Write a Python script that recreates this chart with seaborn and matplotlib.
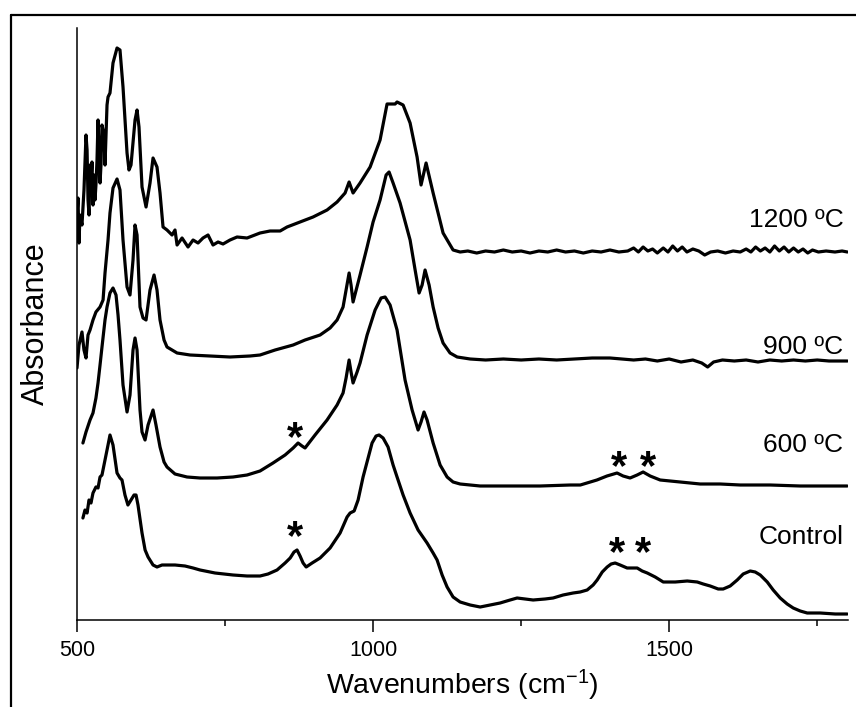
import numpy as np
import pandas as pd
import matplotlib
matplotlib.use("Agg")
import matplotlib.pyplot as plt
from matplotlib.lines import Line2D
from matplotlib.ticker import FixedLocator
import seaborn as sns

# ---------------- data (wavenumber, stacked absorbance in arbitrary units) ----------------
wn_1200 = [500, 501.7, 503.4, 505, 508.4, 511.8, 515.2, 517, 518.6, 520.3, 522, 523.6, 525.3, 527,
           528.7, 530.4, 532, 533.8, 535.5, 537, 538.9, 540.5, 542.2, 544, 545.6, 547.3, 550.7, 552.4,
           555.7, 560.8, 567.6, 572.6, 577.7, 584.5, 587.8, 591.2, 598, 601.4, 604.7, 609.8, 616.6,
           623.3, 628.4, 635.1, 640.2, 645.3, 652, 660.5, 665.5, 669, 677.4, 687.5, 696, 704.4, 712.8,
           721.3, 729.7, 738.2, 746.6, 758.4, 770.3, 787.2, 809.1, 826, 843, 854.7, 876.7, 898.6,
           922.3, 939.2, 952.7, 959.5, 966.2, 978, 995, 1011.8, 1023.6, 1037.2, 1040.5, 1050.7,
           1062.5, 1074.3, 1081, 1089.5, 1101.4, 1118.2, 1135.1, 1147,
           1160, 1175, 1190, 1205, 1220, 1235, 1250, 1265, 1280, 1295, 1310, 1325, 1340, 1355, 1370,
           1385, 1400, 1415, 1430, 1440, 1448, 1456, 1464, 1472, 1480, 1490, 1498, 1506, 1514, 1522,
           1530, 1540, 1550, 1560, 1570, 1582, 1595, 1608, 1620, 1630, 1638, 1646, 1654, 1662, 1670,
           1678, 1686, 1694, 1702, 1710, 1718, 1726, 1734, 1742, 1752, 1765, 1780, 1792, 1801]
ab_1200 = [405, 422, 377, 405, 395, 430, 485, 470, 420, 405, 455, 440, 458, 415,
           445, 420, 435, 460, 500, 470, 437, 455, 495, 490, 485, 455, 515, 523,
           527, 557, 572, 570, 533, 467, 450, 455, 500, 510, 493, 433, 413,
           437, 462, 453, 427, 393, 390, 385, 390, 375, 382, 373, 380, 377, 382,
           385, 375, 378, 376, 380, 383, 382, 387, 389, 389, 393, 398, 403,
           410, 418, 427, 438, 427, 437, 453, 480, 516, 516, 518, 515,
           497, 463, 435, 457, 427, 387, 370, 368,
           369, 367, 369, 368, 370, 368, 369, 367, 369, 368, 370, 368, 369, 367, 369,
           368, 370, 368, 369, 372, 368, 373, 369, 371, 367, 372, 368, 374, 369, 373,
           368, 371, 369, 365, 368, 369, 367, 369, 368, 371, 368, 373, 369, 372, 368,
           374, 369, 373, 368, 372, 368, 371, 367, 370, 368, 369, 368, 369, 368]

wn_900 = [500, 503.4, 508.4, 511.8, 515.2, 518.6, 522, 527, 532, 538.9, 544, 547.3, 552.4, 555.7,
          560.8, 567.6, 572.6, 577.7, 584.5, 589.5, 594.6, 598, 601.4, 606.4, 611.5, 616.6, 623.3,
          630.1, 635.1, 640.2, 647, 652, 660.5, 669, 690.9, 724.7, 758.4, 792.2, 809.1, 834.5, 865,
          885.1, 910.5, 927.4, 939.2, 949.3, 954.4, 959.5, 962.8, 966.2, 978, 989.9, 1000, 1011.8,
          1022, 1027, 1033.8, 1045.6, 1062.5, 1071, 1077.7, 1082.8, 1087.8, 1094.6, 1101.4, 1109.8,
          1118.2, 1130, 1142, 1164,
          1190, 1220, 1250, 1280, 1310, 1340, 1370, 1400, 1420, 1440, 1460, 1480, 1500, 1520, 1540,
          1555, 1565, 1575, 1590, 1610, 1630, 1650, 1670, 1690, 1710, 1730, 1750, 1770, 1801]
ab_900 = [252, 275, 288, 270, 262, 285, 290, 300, 308, 313, 320, 347, 380, 407,
          432, 441, 430, 380, 333, 325, 360, 395, 385, 313, 302, 300, 330,
          345, 330, 300, 280, 273, 270, 267, 265, 264, 263, 264, 265, 270, 275,
          280, 285, 292, 300, 313, 330, 347, 335, 318, 345, 373, 398, 420,
          445, 448, 437, 417, 380, 350, 327, 335, 350, 335, 313, 292,
          277, 267, 263, 261,
          260, 261, 260, 261, 260, 261, 262, 262, 261, 260, 261, 259, 261, 258, 260,
          257, 253, 258, 260, 259, 260, 258, 260, 259, 260, 259, 260, 259, 259]

wn_600 = [510, 515.2, 522, 527, 532, 535.5, 538.9, 542.2, 547.3, 550.7, 555.7, 560.8, 565.9, 569.3,
          572.6, 577.7, 584.5, 589.5, 594.6, 598, 601.4, 606.4, 609.8, 614.9, 620, 628.4, 633.4,
          640.2, 647, 652, 665.5, 685.8, 707.8, 736.5, 763.5, 787.2, 809.1, 831, 851.4, 865, 873.3,
          880, 885.1, 902, 922.3, 939.2, 949.3, 954.4, 959.5, 962.8, 966.2, 973, 978, 989.9, 1003.4,
          1013.5, 1020.3, 1028.7, 1040.5, 1054, 1065.9, 1076, 1081, 1086, 1091.2, 1101.4, 1113.2,
          1125, 1135.1, 1147, 1180.8, 1214.5, 1282, 1332.8, 1350, 1378, 1395, 1412, 1422.2, 1434,
          1445.9, 1456, 1467.9, 1484.8, 1518.6, 1552.4, 1586.2, 1620, 1670.6, 1721.3, 1800.7]
ab_600 = [177, 188, 200, 207, 222, 237, 255, 273, 300, 313, 327, 332, 325, 305,
          280, 235, 208, 225, 270, 282, 270, 210, 188, 180, 195, 210, 195,
          173, 158, 153, 146, 143, 142, 142, 143, 145, 149, 157, 165, 172, 177,
          174, 172, 185, 200, 215, 227, 242, 260, 248, 237, 248, 257, 285, 310,
          322, 323, 315, 290, 240, 210, 190, 198, 208, 200, 177, 155,
          143, 138, 136, 134, 134, 134, 135, 135, 140, 144, 147, 144, 142,
          145, 148, 144, 140, 138, 136, 136, 135, 135, 134, 134]

wn_ctrl = [510, 513.5, 517, 520.3, 523.6, 527, 532, 535.5, 538.9, 542.2, 547.3, 552.4, 555.7, 560.8,
           567.6, 572.6, 576, 581, 586, 591.2, 596.3, 599.7, 603, 609.8, 615, 620, 628.4, 635.1,
           643.6, 653.7, 665.5, 682.4, 696, 707.8, 733.1, 763.5, 787.2, 809.1, 822.6, 837.8, 851.4,
           860, 866.5, 871.6, 876.7, 881.8, 887, 897, 910.5, 927.4, 944.3, 956.1, 961.2, 968, 974.7,
           983.1, 991.6, 998.3, 1005, 1010.1, 1016.9, 1025.3, 1033.8, 1040.5, 1050.7, 1062.5, 1076,
           1091.2, 1101.4, 1108.1, 1116.6, 1125, 1135.1, 1147, 1163.9, 1180.8, 1197.7, 1214.5,
           1231.4, 1243.2, 1256.8, 1270.3, 1290.5, 1304, 1320.9, 1337.8, 1349.7, 1361.5, 1371.6,
           1378.4, 1387, 1395.3, 1402, 1408.8, 1417.2, 1429, 1439.2, 1446, 1454.4, 1463, 1476.4,
           1490, 1510.2, 1530.5, 1547.4, 1557.5, 1569.3, 1582.8, 1591.2, 1603, 1614.9, 1625, 1636.9,
           1645.3, 1653.8, 1665.6, 1675.7, 1687.5, 1699.3, 1709.5, 1721.3, 1733.1, 1755, 1780.4, 1800.7]
ab_ctrl = [102, 110, 107, 120, 117, 127, 133, 132, 143, 145, 160, 175, 185, 175,
           147, 142, 140, 125, 115, 120, 125, 125, 115, 87, 70, 63, 55, 53,
           55, 55, 55, 54, 52, 50, 47, 45, 44, 44, 46, 50, 57,
           62, 68, 70, 64, 57, 53, 57, 62, 72, 87, 103, 107, 109, 120,
           143, 162, 177, 184, 185, 182, 173, 155, 143, 125, 107, 90,
           77, 67, 60, 45, 33, 23, 18, 15, 13, 15, 17,
           20, 22, 21, 20, 21, 22, 25, 27, 28, 30, 35,
           40, 48, 53, 56, 57, 55, 52, 52, 52, 49, 47, 43,
           38, 38, 39, 38, 36, 34, 31, 31, 34, 40, 46, 49,
           48, 45, 38, 30, 22, 16, 12, 9, 7, 7, 6, 6]

samples = ["1200 ºC", "900 ºC", "600 ºC", "Control"]
label_y = [400, 273, 175, 83]
star_wn = [868, 868, 1415.5, 1464.5, 1412, 1456]
star_ab = [192, 93, 163, 163, 77, 77]

x_major = [500, 1000, 1500]
x_minor = [750, 1250, 1750]

# ---------------- build long-form table ----------------
frames = []
for name, x, y in zip(samples, [wn_1200, wn_900, wn_600, wn_ctrl],
                      [ab_1200, ab_900, ab_600, ab_ctrl]):
    frames.append(pd.DataFrame({"wn": x, "ab": y, "sample": name}))
df = pd.concat(frames, ignore_index=True)

sns.set_style("ticks")
plt.rcParams["font.family"] = ["Liberation Sans", "DejaVu Sans"]
plt.rcParams["mathtext.default"] = "regular"
plt.rcParams["text.color"] = "black"
plt.rcParams["axes.labelcolor"] = "black"
plt.rcParams["xtick.color"] = "black"

fig = plt.figure(figsize=(8.56, 7.07), dpi=100)
ax = fig.add_axes([77 / 856, 1 - 620 / 707, (848 - 77) / 856, (620 - 28) / 707])

sns.lineplot(data=df, x="wn", y="ab", hue="sample", units="sample", estimator=None,
             palette=["black"] * 4, legend=False, linewidth=2.3, ax=ax, sort=False)

ax.set_xlim(500, 1802)
ax.set_ylim(0, 592)
ax.xaxis.set_major_locator(FixedLocator(x_major))
ax.xaxis.set_minor_locator(FixedLocator(x_minor))
ax.set_yticks([])
ax.tick_params(axis="x", which="major", length=8.6, width=1.1, labelsize=15.5, pad=6,
               color="black", labelcolor="black")
ax.tick_params(axis="x", which="minor", length=4.3, width=1.1, color="black")
for s in ["top", "right"]:
    ax.spines[s].set_visible(False)
for s in ["left", "bottom"]:
    ax.spines[s].set_linewidth(1.1)
    ax.spines[s].set_color("black")

ax.set_xlabel("Wavenumbers (cm$^{-1}$)", fontsize=20.5, labelpad=5, color="black")
ax.set_ylabel("Absorbance", fontsize=22, labelpad=19, color="black")

for name, ly in zip(samples, label_y):
    ax.text(1794, ly, name, fontsize=19, ha="right", va="center", color="black")

for sx, sy in zip(star_wn, star_ab):
    ax.text(sx, sy - 22, "*", fontsize=30, fontweight="bold", ha="center", va="baseline",
            color="black")

# partial frame (top and left) of the original image
fig.add_artist(Line2D([11 / 856, 11 / 856], [0, 1 - 15 / 707], color="black", lw=1.6))
fig.add_artist(Line2D([11 / 856, 1], [1 - 15 / 707, 1 - 15 / 707], color="black", lw=1.6))

fig.savefig("out.png", dpi=100)
